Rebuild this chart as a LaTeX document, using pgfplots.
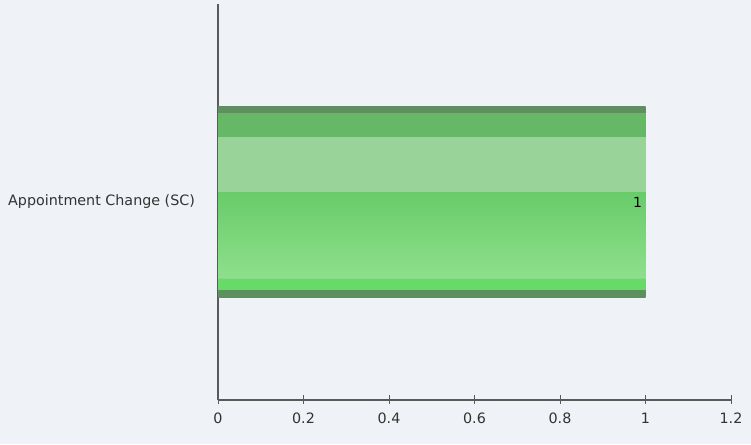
\documentclass[border=0pt]{standalone}
\usepackage{pgfplots}
\pgfplotsset{compat=1.18}
\usepackage{fontspec}
\setmainfont{DejaVu Sans}

\definecolor{bg}{HTML}{EFF2F6}
\definecolor{axisgray}{HTML}{5A5A5A}
\definecolor{txt}{HTML}{333333}
\definecolor{bdark}{HTML}{5E8F5F}
\definecolor{bmed}{HTML}{66B766}
\definecolor{blight}{HTML}{9AD399}
\definecolor{bgtop}{HTML}{68CC69}
\definecolor{bgbot}{HTML}{8EDF8C}
\definecolor{bbright}{HTML}{68DA68}

% glossy stripes of the bar, bottom (25bp) to top (75bp)
\pgfdeclareverticalshading{barshade}{100bp}{%
  color(0bp)=(bdark); color(25bp)=(bdark); color(27.1bp)=(bdark);
  color(27.11bp)=(bbright); color(30bp)=(bbright);
  color(30.01bp)=(bgbot); color(52.7bp)=(bgtop);
  color(52.71bp)=(blight); color(67.2bp)=(blight);
  color(67.21bp)=(bmed); color(73.5bp)=(bmed);
  color(73.51bp)=(bdark); color(100bp)=(bdark)}

\begin{document}
\begin{tikzpicture}
\fill[bg] (0,0) rectangle (751pt,444pt);
\useasboundingbox (0,0) rectangle (751pt,444pt);
\begin{axis}[
  at={(218pt,44pt)}, anchor=south west,
  scale only axis,
  width=513pt, height=396pt,
  xbar,
  xmin=0, xmax=1.2,
  ymin=-1, ymax=1,
  /pgf/number format/assume math mode=true,
  axis x line*=bottom,
  axis y line*=left,
  axis line style={axisgray, line width=1.2pt},
  xtick={0,0.2,0.4,0.6,0.8,1,1.2},
  xticklabels={0,0.2,0.4,0.6,0.8,1,1.2},
  ytick={0},
  yticklabels={Appointment Change (SC)},
  tick align=center,
  major tick length=9pt,
  x tick style={axisgray, line width=1pt, yshift=1pt},
  y tick style={draw=none},
  tick label style={font=\fontsize{14.3}{16}\selectfont, text=txt},
  x tick label style={yshift=-5pt},
  y tick label style={xshift=-15pt},
  bar width=190pt,
  nodes near coords,
  nodes near coords style={font=\fontsize{14}{16}\selectfont, text=black, anchor=east},
]
\addplot[draw=none, shading=barshade] coordinates {(1,0)};
\end{axis}
\end{tikzpicture}
\end{document}
